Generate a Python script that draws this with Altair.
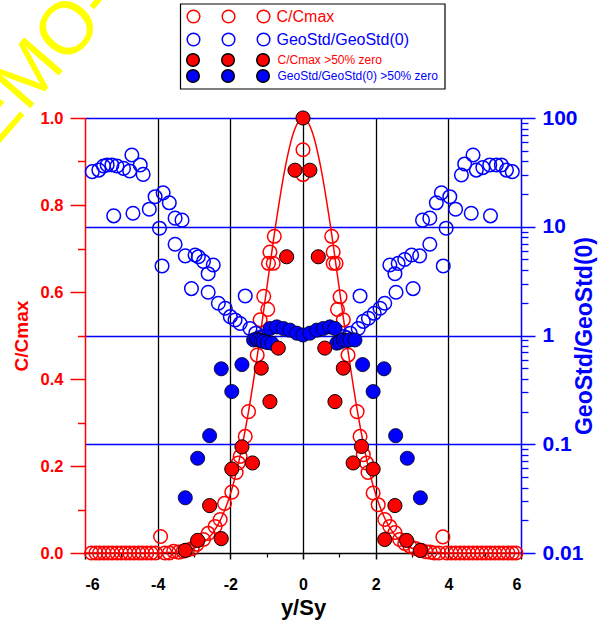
import altair as alt
import pandas as pd

# ---------------- data ----------------
curve_x = [-6.0, -5.75, -5.5, -5.25, -5.0, -4.75, -4.5, -4.25, -4.0,
           -3.75, -3.5, -3.25, -3.0, -2.75, -2.5, -2.25, -2.0, -1.75, -1.5,
           -1.25, -1.0, -0.75, -0.5, -0.25, 0.0, 0.25, 0.5, 0.75, 1.0, 1.25,
           1.5, 1.75, 2.0, 2.25, 2.5, 2.75, 3.0, 3.25, 3.5, 3.75,
           4.0, 4.25, 4.5, 4.75, 5.0, 5.25, 5.5, 5.75, 6.0]
curve_c = [0, 0, 0, 0, 0, 0, 0, 0, 0,
           0.001, 0.002, 0.005, 0.011, 0.023, 0.044, 0.080, 0.135, 0.216, 0.325,
           0.458, 0.607, 0.755, 0.882, 0.969, 1.0, 0.969, 0.882, 0.755, 0.607, 0.458,
           0.325, 0.216, 0.135, 0.080, 0.044, 0.023, 0.011, 0.005, 0.002, 0.001,
           0, 0, 0, 0, 0, 0, 0, 0, 0]

c_open_x = [-5.82, -5.7, -5.6, -5.48, -5.36, -5.25, -5.12, -5.0, -4.88, -4.77,
            -4.65, -4.52, -4.42, -4.3, -4.18, -4.06, -3.92, -3.8, -3.68, -3.56,
            -3.42, -3.3, -3.18, -3.05, -2.92, -2.74, -2.61, -2.42, -2.28, -2.16,
            -1.96, -1.84, -1.78, -1.73, -1.59, -1.5, -1.26, -1.18, -1.08, -0.97,
            -0.95, -0.91, -0.82, -0.79, 0.0, 0.0, 0.79, 0.83, 0.83, 0.91,
            0.95, 1.02, 1.11, 1.24, 1.49, 1.57, 1.66, 1.75, 1.79, 1.93,
            2.07, 2.25, 2.39, 2.53, 2.66, 2.8, 2.94, 3.1, 3.25, 3.38,
            3.5, 3.62, 3.74, 3.85, 3.96, 4.08, 4.2, 4.32, 4.44, 4.56,
            4.68, 4.8, 4.92, 5.04, 5.16, 5.28, 5.4, 5.52, 5.64, 5.76, 5.86]
c_open_c = [0, 0, 0, 0, 0, 0, 0, 0, 0, 0,
            0, 0, 0, 0, 0, 0, 0.038, 0, 0, 0.004,
            0.002, 0.004, 0.007, 0.010, 0.020, 0.031, 0.045, 0.061, 0.077, 0.114,
            0.140, 0.185, 0.207, 0.222, 0.268, 0.325, 0.455, 0.536, 0.590, 0.560,
            0.666, 0.692, 0.666, 0.728, 0.927, 0.870, 0.728, 0.692, 0.666, 0.666,
            0.560, 0.589, 0.536, 0.455, 0.325, 0.268, 0.226, 0.207, 0.185, 0.138,
            0.111, 0.077, 0.061, 0.047, 0.031, 0.022, 0.016, 0.010, 0.006, 0.003,
            0.002, 0, 0, 0.037, 0, 0, 0, 0, 0, 0,
            0, 0, 0, 0, 0, 0, 0, 0, 0, 0, 0]

c_fill_x = [-3.24, -2.9, -2.57, -2.25, -1.96, -1.68, -1.39, -1.15, -0.91, -0.68,
            -0.45, -0.22, 0.0, 0.19, 0.42, 0.6, 0.88, 1.11, 1.38, 1.61,
            1.93, 2.25, 2.53, 2.85, 3.23]
c_fill_c = [0.006, 0.029, 0.109, 0.033, 0.193, 0.244, 0.207, 0.425, 0.348, 0.471,
            0.681, 0.880, 1.0, 0.880, 0.681, 0.471, 0.348, 0.425, 0.207, 0.245,
            0.193, 0.031, 0.109, 0.029, 0.006]

g_open_x = [-5.8, -5.62, -5.49, -5.39, -5.26, -5.12, -4.94, -4.77, -4.71, -4.48,
            -4.4, -5.21, -4.68, -4.23, -4.07, -3.85, -3.68, -3.52, -3.33, -3.95,
            -3.88, -3.52, -3.24, -2.97, -2.88, -2.74, -2.47, -2.61, -3.07, -2.61,
            -2.33, -2.14, -2.0, -1.87, -1.73, -1.59, -1.46, -1.3, -1.2, -1.12,
            1.12, 1.2, 1.3, 1.52, 1.57, 1.66, 1.8, 1.96, 2.12, 2.25,
            2.56, 3.03, 2.53, 2.39, 2.62, 2.8, 2.99, 3.21, 3.49, 3.86,
            3.94, 3.29, 3.49, 3.67, 5.16, 4.63, 4.2, 4.04, 3.81, 4.36,
            4.45, 4.68, 4.77, 4.95, 5.14, 5.32, 5.46, 5.6, 5.76]
g_open_g = [32.1, 33.2, 36.2, 37.0, 37.0, 36.2, 34.4, 32.6, 45.7, 37.0,
            30.3, 12.6, 13.3, 14.5, 18.9, 20.5, 16.6, 12.0, 11.5, 9.7,
            4.36, 6.9, 5.4, 5.5, 5.3, 4.8, 4.45, 3.7, 2.7, 2.5,
            1.98, 1.78, 1.49, 1.39, 1.29, 2.31, 1.16, 1.05, 0.95, 0.98,
            0.98, 0.95, 1.05, 1.16, 2.31, 1.35, 1.44, 1.60, 1.78, 1.98,
            2.5, 2.7, 3.7, 4.45, 4.6, 5.0, 5.5, 5.4, 6.9, 4.36,
            9.7, 11.5, 12.0, 16.6, 12.6, 13.3, 14.5, 18.9, 20.5, 29.9,
            37.8, 45.7, 33.2, 35.0, 37.0, 37.0, 37.0, 33.2, 32.1]

g_fill_x = [-3.24, -2.9, -2.57, -2.25, -1.96, -1.68, -1.36, -1.28, -1.22, -1.15,
            -1.09, -0.98, -0.86, -0.91, -0.72, -0.54, -0.36, -0.17, 0.0, 0.19,
            0.38, 0.56, 0.74, 0.88, 0.93, 1.02, 1.11, 1.2, 1.29, 1.43,
            1.64, 1.93, 2.23, 2.55, 2.87, 3.23]
g_fill_g = [0.0322, 0.0743, 0.12, 0.494, 0.305, 0.54, 0.91, 0.93, 0.91, 0.90,
            0.88, 0.86, 0.85, 1.16, 1.20, 1.16, 1.12, 1.05, 1.01, 1.05,
            1.12, 1.16, 1.20, 1.16, 0.85, 0.87, 0.91, 0.90, 0.91, 0.91,
            0.54, 0.305, 0.494, 0.12, 0.0743, 0.0322]

series_names = ["C/Cmax", "GeoStd/GeoStd(0)", "C/Cmax >50% zero",
                "GeoStd/GeoStd(0) >50% zero"]
x_labels = [-6, -4, -2, 0, 2, 4, 6]
x_minor = [-5, -3, -1, 1, 3, 5]
x_grid = [-4, -2, 0, 2, 4]
c_ticks = [0, 0.2, 0.4, 0.6, 0.8, 1.0]
c_minor = [0.1, 0.3, 0.5, 0.7, 0.9]
g_ticks = [0.01, 0.1, 1, 10, 100]
g_minor = [0.02, 0.03, 0.04, 0.05, 0.06, 0.07, 0.08, 0.09,
           0.2, 0.3, 0.4, 0.5, 0.6, 0.7, 0.8, 0.9,
           2, 3, 4, 5, 6, 7, 8, 9,
           20, 30, 40, 50, 60, 70, 80, 90]

# ---------------- tables ----------------
df_curve = pd.DataFrame({"x": curve_x, "c": curve_c})
df_co = pd.DataFrame({"x": c_open_x, "c": c_open_c, "series": series_names[0]})
df_go = pd.DataFrame({"x": g_open_x, "g": g_open_g, "series": series_names[1]})
df_cf = pd.DataFrame({"x": c_fill_x, "c": c_fill_c, "series": series_names[2]})
df_gf = pd.DataFrame({"x": g_fill_x, "g": g_fill_g, "series": series_names[3]})
one = pd.DataFrame({"t": ["DEMO-DEMO"]})

RED = "#ff0000"
BLUE = "#0000ff"
FONT = "Liberation Sans"

xs = alt.Scale(domain=[-6, 6], nice=False, zero=False)
cs = alt.Scale(domain=[0, 1], nice=False, zero=False)
gs = alt.Scale(type="log", domain=[0.01, 100], nice=False)

three_circles = ("M1,0A1,1,0,1,1,-1,0A1,1,0,1,1,1,0Z "
                 "M6.556,0A1,1,0,1,1,4.556,0A1,1,0,1,1,6.556,0Z "
                 "M12.111,0A1,1,0,1,1,10.111,0A1,1,0,1,1,12.111,0Z")


def legend_row(color, size, ly, offset):
    return alt.Legend(orient="none", legendX=100.5, legendY=ly, title=None,
                      symbolType=three_circles, symbolSize=159,
                      labelOffset=offset, labelFont=FONT, labelLimit=400,
                      labelFontSize=size, labelColor=color, padding=0)


def fill_enc(idx, fillcolor, color, size, ly, offset):
    return alt.Fill("series:N",
                    scale=alt.Scale(domain=[series_names[idx]], range=[fillcolor]),
                    legend=legend_row(color, size, ly, offset))


# axes ---------------------------------------------------------------
x_main = alt.Axis(orient="bottom", values=x_labels, labelExpr="'' + datum.value",
                  labelFont=FONT, labelFontWeight="bold", labelFontSize=16,
                  labelColor="black", labelPadding=17, tickColor="black",
                  tickSize=6, tickWidth=1.5, domainColor="black", domainWidth=1.5,
                  grid=False, title="y/Sy", titleFont=FONT, titleFontSize=22,
                  titleFontWeight="bold", titleColor="black", titlePadding=5)
x_gridax = alt.Axis(orient="bottom", values=x_grid, grid=True, gridColor="black",
                    gridWidth=1.3, ticks=False, labels=False, domain=False, title=None)
x_minorax = alt.Axis(orient="bottom", values=x_minor, grid=False, ticks=True,
                     tickSize=4, tickWidth=1.2, tickColor="black", labels=False,
                     domain=False, title=None)

c_main = alt.Axis(orient="left", values=c_ticks, format=".1f", labelFont=FONT,
                  labelFontWeight="bold", labelFontSize=16.5, labelColor=RED,
                  labelPadding=7, tickColor=RED, tickSize=15, tickWidth=1.5,
                  domainColor=RED, domainWidth=1.5, grid=False, title="C/Cmax",
                  titleFont=FONT, titleFontSize=19, titleFontWeight="bold",
                  titleColor=RED, titlePadding=9)
c_minorax = alt.Axis(orient="left", values=c_minor, tickSize=7.5, tickWidth=1.5,
                     tickColor=RED, labels=False, domain=False, grid=False, title=None)

g_main = alt.Axis(orient="right", values=g_ticks, labelExpr="'' + datum.value",
                  labelFont=FONT, labelFontWeight="bold", labelFontSize=21,
                  labelColor=BLUE, labelPadding=7, tickColor=BLUE, tickSize=14,
                  tickWidth=1.5, domainColor=BLUE, domainWidth=1.5, grid=True,
                  gridColor=BLUE, gridWidth=1.4,
                  gridOpacity=alt.condition("datum.value < 0.05", alt.value(0), alt.value(1)),
                  title="GeoStd/GeoStd(0)", titleFont=FONT, titleFontSize=23,
                  titleFontWeight="bold", titleColor=BLUE, titleAngle=270,
                  titlePadding=14)
g_minorax = alt.Axis(orient="right", values=g_minor, tickSize=7, tickWidth=1.3,
                     tickColor=BLUE, labels=False, domain=False, grid=False, title=None)

# layers -------------------------------------------------------------
line = alt.Chart(df_curve).mark_line(color=RED, strokeWidth=1.5, interpolate="monotone").encode(
    x=alt.X("x:Q", scale=xs, axis=x_main),
    y=alt.Y("c:Q", scale=cs, axis=c_main),
)
c_open = alt.Chart(df_co).mark_point(shape="circle", filled=True, size=185, stroke=RED,
                                      strokeWidth=1.5, opacity=1).encode(
    x=alt.X("x:Q", scale=xs, axis=x_gridax),
    y=alt.Y("c:Q", scale=cs, axis=c_minorax),
    fill=fill_enc(0, "transparent", RED, 16, -109.5, 75),
)
g_open = alt.Chart(df_go).mark_point(shape="circle", filled=True, size=185, stroke=BLUE,
                                      strokeWidth=1.5, opacity=1).encode(
    x=alt.X("x:Q", scale=xs, axis=x_minorax),
    y=alt.Y("g:Q", scale=gs, axis=g_main),
    fill=fill_enc(1, "transparent", BLUE, 16, -86.5, 75),
)
g_fill = alt.Chart(df_gf).mark_point(shape="circle", filled=True, size=200, stroke="black",
                                      strokeWidth=0.8, opacity=1).encode(
    x=alt.X("x:Q", scale=xs, axis=None),
    y=alt.Y("g:Q", scale=gs, axis=g_minorax),
    fill=fill_enc(3, BLUE, BLUE, 12, -49.5, 77),
)
c_fill = alt.Chart(df_cf).mark_point(shape="circle", filled=True, size=200, stroke="black",
                                      strokeWidth=1, opacity=1).encode(
    x=alt.X("x:Q", scale=xs, axis=None),
    y=alt.Y("c:Q", scale=cs, axis=None),
    fill=fill_enc(2, RED, RED, 12, -65.5, 77),
)
frame = alt.Chart(one).mark_rect(fill="transparent", stroke="black", strokeWidth=1.2).encode(
    x=alt.value(95.5), x2=alt.value(360), y=alt.value(-114), y2=alt.value(-29))
water = alt.Chart(one).mark_text(
    font=FONT, fontSize=74, color="#ffff00", angle=311, align="center",
    baseline="middle").encode(text="t:N", x=alt.value(11), y=alt.value(-119))

chart = alt.layer(line, c_open, g_open, g_fill, c_fill, frame, water).resolve_scale(
    y="independent", fill="independent").resolve_axis(
    x="independent", y="independent").resolve_legend(fill="independent").properties(
    width=436, height=435,
    autosize=alt.AutoSizeParams(type="none"),
    padding={"left": 85, "top": 118, "right": 78, "bottom": 67},
).configure_view(stroke=None).configure(background="white")

chart.save("out.html", embed_options={"renderer": "svg", "actions": False})
